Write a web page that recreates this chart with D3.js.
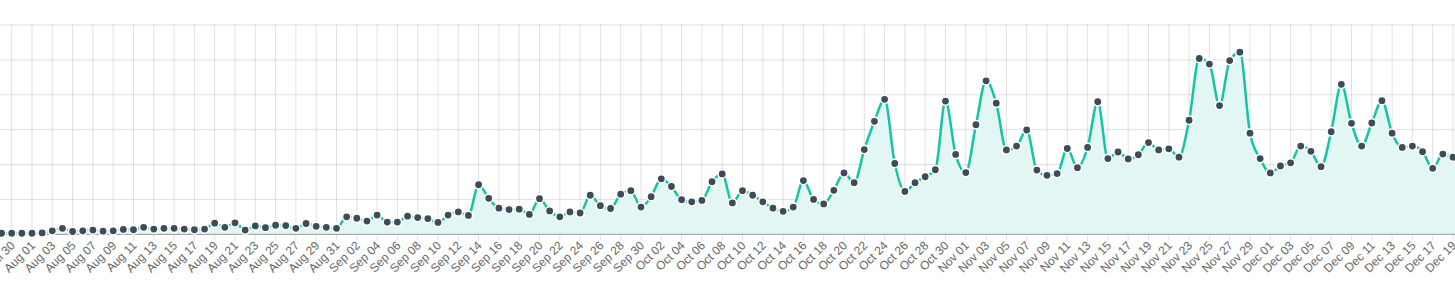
<!DOCTYPE html>
<html>
<head>
<meta charset="utf-8">
<script src="https://cdn.jsdelivr.net/npm/d3@7"></script>
<style>
  html, body { margin: 0; padding: 0; background: #fff; }
  svg { display: block; }
  .tick-label { font-family: "Liberation Sans", Arial, Helvetica, sans-serif; font-size: 12px; fill: #666; }
</style>
</head>
<body>
<svg id="chart" width="1455" height="289"></svg>
<script>
// ---- data ----
const startDate = "2023-07-29"; // first category (daily series)
const values = [
  3, 3, 3, 3, 4, 10, 17, 8, 10, 12, 9, 10, 14, 13, 20, 15, 17, 17, 15, 13, 15, 32, 20, 33, 12, 24, 19, 26, 25, 17, 31, 23, 20, 17,
  50, 46, 38, 55, 35, 35, 52, 48, 45, 34, 55, 64, 54, 142, 103, 75, 71, 72, 57, 102, 67, 50, 64, 61, 112, 82, 74, 115, 125, 78,
  108, 159, 137, 99, 93, 97, 151, 173, 90, 125, 112, 93, 75, 66, 78, 154, 100, 87, 126, 176, 148, 243, 324, 387, 203, 123, 148, 165, 185, 382, 229,
  177, 314, 440, 376, 242, 253, 299, 184, 169, 174, 246, 191, 249, 380, 217, 236, 216, 228, 263, 242, 245, 221, 327, 504, 488, 369, 498, 522, 290, 217,
  176, 196, 205, 253, 238, 194, 294, 430, 318, 253, 319, 383, 290, 249, 253, 237, 189, 230, 221, 215
];
const yTicks = [0, 100, 200, 300, 400, 500, 600];
const tickFormat = "%b %d";
const firstTick = "2023-07-30";
const tickStepDays = 2;

// ---- build ----
const parse = d3.utcParse("%Y-%m-%d");
const t0 = parse(startDate);
const data = values.map((v, i) => ({ date: d3.utcDay.offset(t0, i), value: v }));

const W = 1455, H = 289;
const pxPerDay = 10.15;
const x0px = 1.55;
const lastDate = data[data.length - 1].date;
const x = d3.scaleUtc()
  .domain([t0, lastDate])
  .range([x0px, x0px + pxPerDay * (data.length - 1)]);
const y = d3.scaleLinear().domain([0, 600]).range([234.3, 25]);

const svg = d3.select("#chart");

// horizontal grid
svg.append("g").selectAll("line").data(yTicks.slice(1)).join("line")
  .attr("x1", 0).attr("x2", W)
  .attr("y1", d => y(d)).attr("y2", d => y(d))
  .attr("stroke", "rgba(0,0,0,0.12)").attr("stroke-width", 1);

// vertical grid + ticks + labels
const ticks = d3.utcDay.range(parse(firstTick), d3.utcDay.offset(lastDate, 1), tickStepDays);
const fmt = d3.utcFormat(tickFormat);
const gx = svg.append("g");
gx.selectAll("line").data(ticks).join("line")
  .attr("x1", d => x(d)).attr("x2", d => x(d))
  .attr("y1", y(600)).attr("y2", y(0) + 6)
  .attr("stroke", "rgba(0,0,0,0.12)").attr("stroke-width", 1);
gx.selectAll("text").data(ticks).join("text")
  .attr("class", "tick-label")
  .attr("text-anchor", "end")
  .attr("transform", d => `translate(${x(d) + 4},${y(0) + 12}) rotate(-45)`)
  .text(d => fmt(d));

// area
const curve = d3.curveMonotoneX;
svg.append("path").datum(data)
  .attr("fill", "#e2f7f4")
  .attr("d", d3.area().x(d => x(d.date)).y0(y(0)).y1(d => y(d.value)).curve(curve));

// baseline
svg.append("line")
  .attr("x1", 0).attr("x2", W).attr("y1", y(0)).attr("y2", y(0))
  .attr("stroke", "#a8a8a8").attr("stroke-width", 1.2);

// line
svg.append("path").datum(data)
  .attr("fill", "none")
  .attr("stroke", "#14c4a4")
  .attr("stroke-width", 2.5)
  .attr("d", d3.line().x(d => x(d.date)).y(d => y(d.value)).curve(curve));

// points
svg.append("g").selectAll("circle").data(data).join("circle")
  .attr("cx", d => x(d.date)).attr("cy", d => y(d.value))
  .attr("r", 4.2)
  .attr("fill", "#3e4b59")
  .attr("stroke", "#fff").attr("stroke-width", 1.6);
</script>
</body>
</html>
